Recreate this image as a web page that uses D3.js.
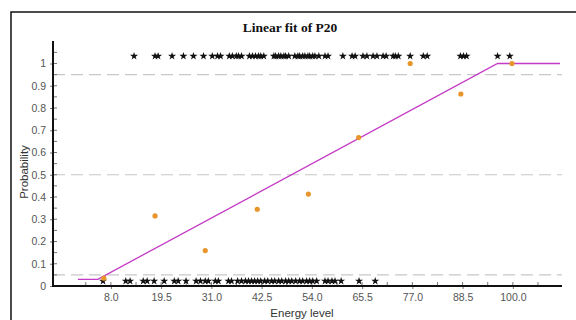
<!DOCTYPE html>
<html><head><meta charset="utf-8">
<script src="https://cdn.jsdelivr.net/npm/d3@7"></script>
<style>body{margin:0;background:#fff}svg{display:block}</style>
</head><body>
<svg id="c" width="576" height="320"></svg>
<script>
const title = "Linear fit of P20";
const xLabel = "Energy level";
const yLabel = "Probability";
const xTicks = [8, 19.5, 31, 42.5, 54, 65.5, 77, 88.5, 100];
const yTicks = [0, 0.1, 0.2, 0.3, 0.4, 0.5, 0.6, 0.7, 0.8, 0.9, 1];
const refLines = [0.05, 0.5, 0.95];
const probX = [6.4, 18.1, 29.6, 41.5, 53.2, 64.7, 76.5, 88.1, 99.8];
const probY = [0.035, 0.315, 0.159, 0.345, 0.413, 0.667, 1.0, 0.863, 1.0];
const fitX = [0.45, 5, 96.5, 110.8];
const fitY = [0.03, 0.03, 1, 1];
const topStarY = 1.033;
const bottomStarY = 0.022;
const topStarsX = [13.3,18.1,18.8,22.0,24.6,26.9,29.2,31.2,32.4,33.1,35.1,35.8,36.7,37.2,37.9,39.7,40.4,41.1,41.8,42.3,43.0,45.3,45.7,46.4,46.9,47.6,48.0,48.7,50.1,50.8,51.2,51.9,52.4,53.1,53.5,54.2,54.7,55.6,57.0,57.7,61.1,63.2,63.9,65.7,66.6,68.0,68.9,70.3,71.0,72.6,73.1,73.8,76.5,79.5,80.4,88.0,88.7,89.4,96.5,99.3];
const bottomStarsX = [6.2,11.4,12.4,15.4,16.3,17.9,20.2,22.5,23.4,25.2,27.5,28.5,29.6,30.3,31.9,32.6,34.9,35.6,37.0,37.9,38.8,39.5,40.2,40.9,41.6,42.3,43.2,43.9,44.8,45.5,46.4,47.1,48.0,48.7,49.4,50.3,51.2,51.9,52.8,53.5,54.2,55.1,57.0,57.7,58.6,59.3,60.7,64.8,68.5];

const svg = d3.select("#c");
const x = d3.scaleLinear().domain([-5.25, 111.25]).range([53, 562]);
const y = d3.scaleLinear().domain([0, 1.1]).range([286, 41.25]);

// outer frame
svg.append("rect").attr("x", 11).attr("y", 12).attr("width", 620).attr("height", 400)
  .attr("fill", "none").attr("stroke", "#111").attr("stroke-width", 1.5);

svg.append("text").attr("x", 290).attr("y", 32).attr("text-anchor", "middle")
  .attr("font-family", "Liberation Serif, Times New Roman, serif").attr("font-weight", "bold")
  .attr("font-size", 13.5).attr("fill", "#111").text(title);

// reference dashed lines
svg.selectAll(".ref").data(refLines).join("line")
  .attr("x1", x(-5.25)).attr("x2", x(111.25))
  .attr("y1", d => y(d)).attr("y2", d => y(d))
  .attr("stroke", "#c8c8c8").attr("stroke-width", 1.2).attr("stroke-dasharray", "12,6");

// y axis
const yMinor = d3.range(0, 22).map(i => i * 0.05);
svg.selectAll(".ymin").data(yMinor).join("line")
  .attr("x1", 53).attr("x2", 57).attr("y1", d => y(d)).attr("y2", d => y(d))
  .attr("stroke", "#777").attr("stroke-width", 1);
const yAxis = d3.axisLeft(y).tickValues(yTicks).tickSize(3).tickSizeOuter(0)
  .tickFormat(d => d === 0 || d === 1 ? d3.format("d")(d) : d3.format(".1f")(d));
const gy = svg.append("g").attr("transform", "translate(53,0)").call(yAxis);
gy.select(".domain").remove();
gy.selectAll(".tick line").attr("stroke", "#777");
gy.selectAll("text").attr("font-family", "Liberation Sans, Arial, sans-serif").attr("font-size", 10.5).attr("fill", "#555").attr("dx", "-1");
svg.append("line").attr("x1", 53).attr("x2", 53).attr("y1", 41).attr("y2", 287)
  .attr("stroke", "#111").attr("stroke-width", 2);

// x axis
const xMinor = d3.range(0, 21).map(i => 2.25 + i * 5.75).filter(d => d < 111);
svg.selectAll(".xmin").data(xMinor).join("line")
  .attr("x1", d => x(d)).attr("x2", d => x(d)).attr("y1", 286).attr("y2", 282)
  .attr("stroke", "#777").attr("stroke-width", 1);
const xAxis = d3.axisBottom(x).tickValues(xTicks).tickSize(3).tickSizeOuter(0).tickFormat(d3.format(".1f"));
const gx = svg.append("g").attr("transform", "translate(0,286)").call(xAxis);
gx.select(".domain").remove();
gx.selectAll(".tick line").attr("stroke", "#777");
gx.selectAll("text").attr("font-family", "Liberation Sans, Arial, sans-serif").attr("font-size", 10.5).attr("fill", "#555").attr("dy", "0.85em");
svg.append("line").attr("x1", 52).attr("x2", 562).attr("y1", 286).attr("y2", 286)
  .attr("stroke", "#111").attr("stroke-width", 2);

// labels
svg.append("text").attr("x", 302).attr("y", 317).attr("text-anchor", "middle")
  .attr("font-family", "Liberation Sans, Arial, sans-serif").attr("font-size", 11.5).attr("fill", "#333").text(xLabel);
svg.append("text").attr("transform", "translate(28,172) rotate(-90)").attr("text-anchor", "middle")
  .attr("font-family", "Liberation Sans, Arial, sans-serif").attr("font-size", 11.5).attr("fill", "#333").text(yLabel);

// fit line
const fitData = fitX.map((d, i) => [d, fitY[i]]);
svg.append("path").datum(fitData)
  .attr("d", d3.line().x(d => x(d[0])).y(d => y(d[1])))
  .attr("fill", "none").attr("stroke", "#c43ac4").attr("stroke-width", 1.3);

// stars
const star = d3.symbol().type(d3.symbolStar).size(20);
svg.selectAll(".ts").data(topStarsX).join("path")
  .attr("d", star).attr("transform", d => `translate(${x(d)},${y(topStarY)})`).attr("fill", "#111");
svg.selectAll(".bs").data(bottomStarsX).join("path")
  .attr("d", star).attr("transform", d => `translate(${x(d)},${y(bottomStarY)})`).attr("fill", "#111");

// probability points
svg.selectAll(".pt").data(probX).join("circle")
  .attr("cx", d => x(d)).attr("cy", (d, i) => y(probY[i])).attr("r", 2.6)
  .attr("fill", "#e8952b");
</script>
</body></html>
